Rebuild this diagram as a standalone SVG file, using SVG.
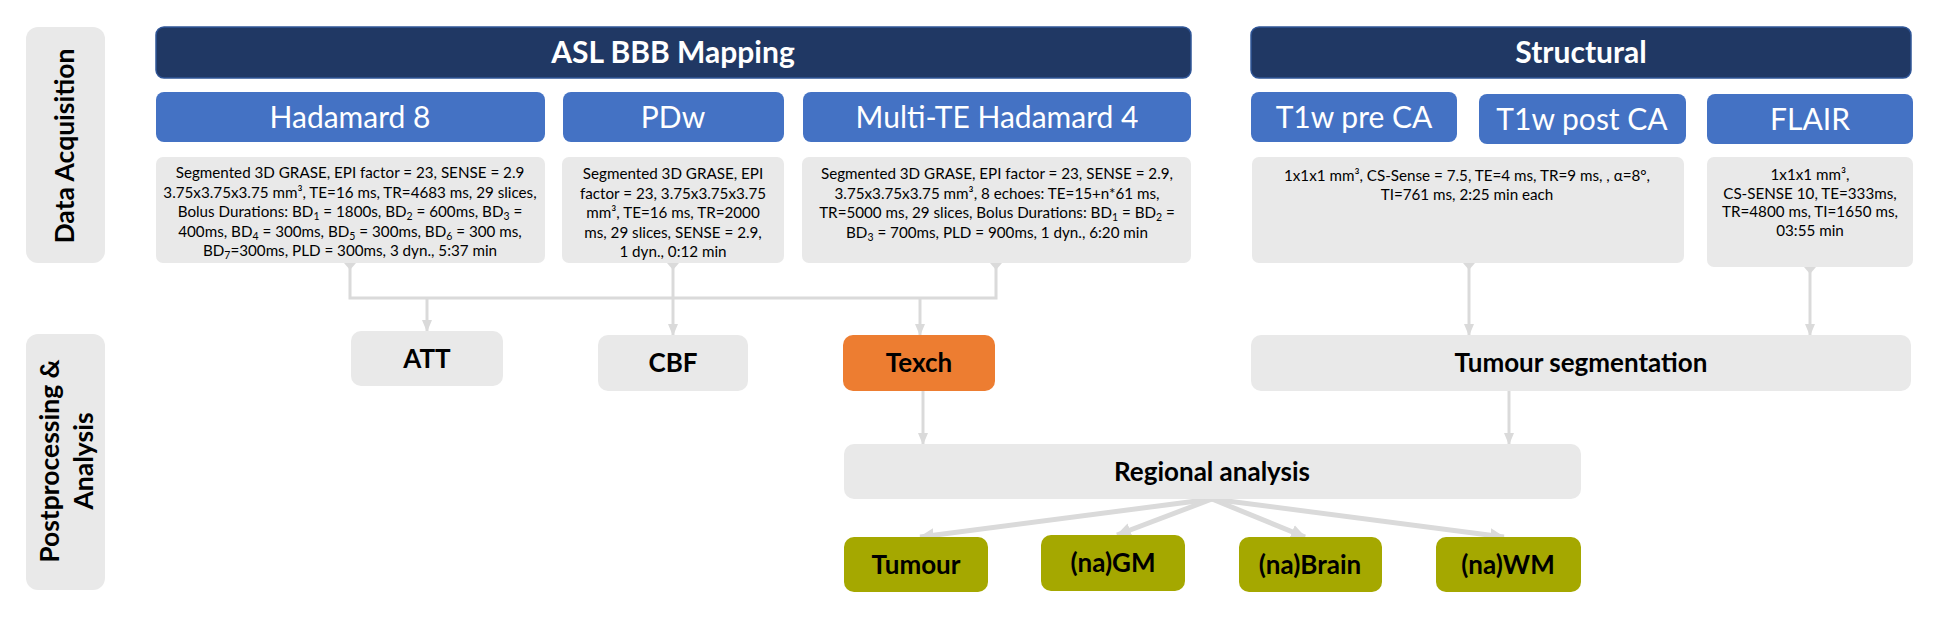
<svg xmlns="http://www.w3.org/2000/svg" width="1944" height="638" viewBox="0 0 1944 638">
<defs>
<style>
.side{fill:#E9E9E9}
.sideT{font-family:Lato,"Open Sans",sans-serif;font-weight:bold;font-size:26.5px;fill:#000;text-anchor:middle;dominant-baseline:central}
.hdr{fill:#203864;stroke:#2F5597;stroke-width:1.5}
.hdrT{font-family:Lato,"Open Sans",sans-serif;font-weight:bold;font-size:30px;fill:#fff;text-anchor:middle}
.sub{fill:#4472C4}
.subT{font-family:Lato,"Open Sans",sans-serif;font-size:30px;fill:#fff;text-anchor:middle}
.desc{fill:#E9E9E9}
.descT{font-family:Lato,"Open Sans",sans-serif;font-size:15.2px;fill:#000;text-anchor:middle}
.gray{fill:#E9E9E9}
.orange{fill:#ED7D31}
.green{fill:#A5A800}
.nT{font-family:Lato,"Open Sans",sans-serif;font-weight:bold;font-size:26px;fill:#000;text-anchor:middle}
.ln{stroke:#DADADA;stroke-width:3;fill:none}
.lnT{stroke:#DADADA;stroke-width:5;fill:none}
.tip{fill:#DADADA}
</style>
<marker id="ah" markerUnits="userSpaceOnUse" viewBox="0 0 12 12" markerWidth="12" markerHeight="12" refX="11" refY="6" orient="auto">
<path d="M0,1 L12,6 L0,11 z" fill="#DADADA"/>
</marker>
<marker id="ahT" markerUnits="userSpaceOnUse" viewBox="0 0 14 14" markerWidth="15" markerHeight="15" refX="13" refY="7" orient="auto">
<path d="M0,0.5 L14,7 L0,13.5 z" fill="#DADADA"/>
</marker>
</defs>
<rect width="1944" height="638" fill="#fff"/>

<g id="label-acq">
<rect class="side" x="26" y="27" width="79" height="236" rx="12"/>
<text class="sideT" transform="translate(64,146) rotate(-90)">Data Acquisition</text>
</g>
<g id="label-post">
<rect class="side" x="26" y="334" width="79" height="256" rx="12"/>
<text class="sideT" transform="translate(49,461) rotate(-90)">Postprocessing &amp;</text>
<text class="sideT" transform="translate(83,461) rotate(-90)">Analysis</text>
</g>

<g id="hdr-asl">
<rect class="hdr" x="156" y="27" width="1035" height="51" rx="8"/>
<text class="hdrT" x="673" y="63">ASL BBB Mapping</text>
</g>
<g id="hdr-struct">
<rect class="hdr" x="1251" y="27" width="660" height="51" rx="8"/>
<text class="hdrT" x="1581" y="63">Structural</text>
</g>

<g id="had8">
<rect class="sub" x="156" y="92" width="389" height="50" rx="8"/>
<text class="subT" x="350" y="128">Hadamard 8</text>
</g>
<g id="pdw">
<rect class="sub" x="563" y="92" width="221" height="50" rx="8"/>
<text class="subT" x="673" y="128">PDw</text>
</g>
<g id="mte">
<rect class="sub" x="803" y="92" width="388" height="50" rx="8"/>
<text class="subT" x="997" y="128">Multi-TE Hadamard 4</text>
</g>
<g id="t1pre">
<rect class="sub" x="1251" y="92" width="206" height="50" rx="8"/>
<text class="subT" x="1354" y="128">T1w pre CA</text>
</g>
<g id="t1post">
<rect class="sub" x="1479" y="94" width="207" height="50" rx="8"/>
<text class="subT" x="1582" y="130">T1w post CA</text>
</g>
<g id="flair">
<rect class="sub" x="1707" y="94" width="206" height="50" rx="8"/>
<text class="subT" x="1810" y="130">FLAIR</text>
</g>

<g id="had8-desc">
<rect class="desc" x="156" y="157" width="389" height="106" rx="7"/>
<text class="descT" x="350" y="178">Segmented 3D GRASE, EPI factor = 23, SENSE = 2.9</text>
<text class="descT" x="350" y="197.5">3.75x3.75x3.75 mm³, TE=16 ms, TR=4683 ms, 29 slices,</text>
<text class="descT" x="350" y="217">Bolus Durations: BD<tspan font-size="10.5" dy="3">1</tspan><tspan dy="-3"> = 1800s, BD</tspan><tspan font-size="10.5" dy="3">2</tspan><tspan dy="-3"> = 600ms, BD</tspan><tspan font-size="10.5" dy="3">3</tspan><tspan dy="-3"> =</tspan></text>
<text class="descT" x="350" y="236.5">400ms, BD<tspan font-size="10.5" dy="3">4</tspan><tspan dy="-3"> = 300ms, BD</tspan><tspan font-size="10.5" dy="3">5</tspan><tspan dy="-3"> = 300ms, BD</tspan><tspan font-size="10.5" dy="3">6</tspan><tspan dy="-3"> = 300 ms,</tspan></text>
<text class="descT" x="350" y="256">BD<tspan font-size="10.5" dy="3">7</tspan><tspan dy="-3">=300ms, PLD = 300ms, 3 dyn., 5:37 min</tspan></text>
</g>
<g id="pdw-desc">
<rect class="desc" x="562" y="157" width="222" height="106" rx="7"/>
<text class="descT" x="673" y="179">Segmented 3D GRASE, EPI</text>
<text class="descT" x="673" y="198.5">factor = 23, 3.75x3.75x3.75</text>
<text class="descT" x="673" y="218">mm³, TE=16 ms, TR=2000</text>
<text class="descT" x="673" y="237.5">ms, 29 slices, SENSE = 2.9,</text>
<text class="descT" x="673" y="257">1 dyn., 0:12 min</text>
</g>
<g id="mte-desc">
<rect class="desc" x="802" y="157" width="389" height="106" rx="7"/>
<text class="descT" x="997" y="179">Segmented 3D GRASE, EPI factor = 23, SENSE = 2.9,</text>
<text class="descT" x="997" y="198.5">3.75x3.75x3.75 mm³, 8 echoes: TE=15+n*61 ms,</text>
<text class="descT" x="997" y="218">TR=5000 ms, 29 slices, Bolus Durations: BD<tspan font-size="10.5" dy="3">1</tspan><tspan dy="-3"> = BD</tspan><tspan font-size="10.5" dy="3">2</tspan><tspan dy="-3"> =</tspan></text>
<text class="descT" x="997" y="237.5">BD<tspan font-size="10.5" dy="3">3</tspan><tspan dy="-3"> = 700ms, PLD = 900ms, 1 dyn., 6:20 min</tspan></text>
</g>
<g id="t1-desc">
<rect class="desc" x="1252" y="157" width="432" height="106" rx="7"/>
<text class="descT" x="1467" y="181">1x1x1 mm³, CS-Sense = 7.5, TE=4 ms, TR=9 ms, , α=8°,</text>
<text class="descT" x="1467" y="200">TI=761 ms, 2:25 min each</text>
</g>
<g id="flair-desc">
<rect class="desc" x="1707" y="157" width="206" height="110" rx="7"/>
<text class="descT" x="1810" y="180">1x1x1 mm³,</text>
<text class="descT" x="1810" y="198.5">CS-SENSE 10, TE=333ms,</text>
<text class="descT" x="1810" y="217">TR=4800 ms, TI=1650 ms,</text>
<text class="descT" x="1810" y="235.5">03:55 min</text>
</g>

<g id="connectors">
<polygon class="tip" points="344,263 356,263 350,270"/>
<polygon class="tip" points="667,263 679,263 673,270"/>
<polygon class="tip" points="990,263 1002,263 996,270"/>
<polygon class="tip" points="1463,263 1475,263 1469,270"/>
<polygon class="tip" points="1804,267 1816,267 1810,274"/>
<polyline class="ln" points="350,263 350,298 996,298 996,263"/>
<line class="ln" x1="427" y1="298" x2="427" y2="331" marker-end="url(#ah)"/>
<line class="ln" x1="673" y1="263" x2="673" y2="335" marker-end="url(#ah)"/>
<line class="ln" x1="920" y1="298" x2="920" y2="335" marker-end="url(#ah)"/>
<line class="ln" x1="1469" y1="263" x2="1469" y2="335" marker-end="url(#ah)"/>
<line class="ln" x1="1810" y1="267" x2="1810" y2="335" marker-end="url(#ah)"/>
<line class="ln" x1="923" y1="391" x2="923" y2="444" marker-end="url(#ah)"/>
<line class="ln" x1="1509" y1="391" x2="1509" y2="444" marker-end="url(#ah)"/>
<line class="lnT" x1="1212" y1="499" x2="920" y2="537" marker-end="url(#ahT)"/>
<line class="lnT" x1="1212" y1="499" x2="1117" y2="535" marker-end="url(#ahT)"/>
<line class="lnT" x1="1212" y1="499" x2="1305" y2="537" marker-end="url(#ahT)"/>
<line class="lnT" x1="1212" y1="499" x2="1504" y2="537" marker-end="url(#ahT)"/>
</g>

<g id="att">
<rect class="gray" x="351" y="331" width="152" height="55" rx="10"/>
<text class="nT" x="427" y="368">ATT</text>
</g>
<g id="cbf">
<rect class="gray" x="598" y="335" width="150" height="56" rx="10"/>
<text class="nT" x="673" y="372">CBF</text>
</g>
<g id="texch">
<rect class="orange" x="843" y="335" width="152" height="56" rx="10"/>
<text class="nT" x="919" y="372">Texch</text>
</g>
<g id="tumseg">
<rect class="gray" x="1251" y="335" width="660" height="56" rx="10"/>
<text class="nT" x="1581" y="372">Tumour segmentation</text>
</g>
<g id="regional">
<rect class="gray" x="844" y="444" width="737" height="55" rx="10"/>
<text class="nT" x="1212" y="481">Regional analysis</text>
</g>
<g id="tumour">
<rect class="green" x="844" y="537" width="144" height="55" rx="10"/>
<text class="nT" x="916" y="574">Tumour</text>
</g>
<g id="nagm">
<rect class="green" x="1041" y="535" width="144" height="56" rx="10"/>
<text class="nT" x="1113" y="572">(na)GM</text>
</g>
<g id="nabrain">
<rect class="green" x="1239" y="537" width="143" height="55" rx="10"/>
<text class="nT" x="1310" y="574">(na)Brain</text>
</g>
<g id="nawm">
<rect class="green" x="1436" y="537" width="145" height="55" rx="10"/>
<text class="nT" x="1508" y="574">(na)WM</text>
</g>
</svg>
